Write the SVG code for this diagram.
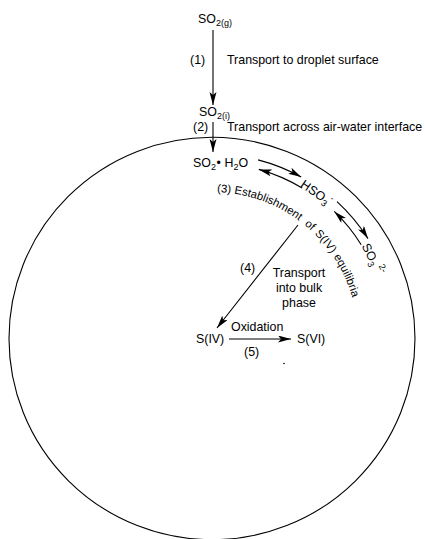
<svg xmlns="http://www.w3.org/2000/svg" width="425" height="539" viewBox="0 0 425 539">
<defs>
<style>
text{font-family:"Liberation Sans",Arial,sans-serif;font-size:12.4px;fill:#000}
.sub{font-size:9px}
.arc{font-size:11.3px}
.ln{fill:none;stroke:#000;stroke-width:1.1}
</style>
<marker id="ah" markerUnits="userSpaceOnUse" markerWidth="14" markerHeight="8" refX="13" refY="3.5" orient="auto">
<path d="M0,0 L13,3.5 L0,7 L3,3.5 z" fill="#000"/>
</marker>
<path id="arcText" d="M217.1,192.1 A146,146 0 0 1 355.8,312.6"/>
</defs>
<rect width="425" height="539" fill="#fff"/>
<g id="droplet">
<ellipse cx="212" cy="338.5" rx="203" ry="201.2" class="ln"/>
</g>
<g id="connectors">
<line x1="213" y1="30" x2="213" y2="105" class="ln" marker-end="url(#ah)"/>
<line x1="213" y1="122" x2="213" y2="152" class="ln" marker-end="url(#ah)"/>
<path d="M258.1,159.9 A184,184 0 0 1 301.2,177.1" class="ln" marker-end="url(#ah)"/>
<path d="M302.1,188 A175,175 0 0 0 258.8,169.4" class="ln" marker-end="url(#ah)"/>
<path d="M337,201.6 A185,185 0 0 1 368,238.6" class="ln" marker-end="url(#ah)"/>
<path d="M361.2,244.7 A176,176 0 0 0 334.3,211.4" class="ln" marker-end="url(#ah)"/>
<line x1="298" y1="225" x2="217" y2="328" class="ln" marker-end="url(#ah)"/>
<line x1="229" y1="339" x2="291" y2="339" class="ln" marker-end="url(#ah)"/>
<circle cx="284" cy="363.5" r="0.8" fill="#000"/>
</g>
<g id="so2g"><text x="198" y="22.5">SO<tspan class="sub" dy="3">2(g)</tspan></text></g>
<g id="step1">
<text x="190" y="63.5">(1)</text>
<text x="227" y="63.5">Transport to droplet surface</text>
</g>
<g id="so2i"><text x="199" y="116">SO<tspan class="sub" dy="3">2(i)</tspan></text></g>
<g id="step2">
<text x="193" y="131">(2)</text>
<text x="227" y="131">Transport across air-water interface</text>
</g>
<g id="so2h2o"><text x="193" y="167.3">SO<tspan class="sub" dy="3">2</tspan><tspan dy="-3" x="216.5">•</tspan><tspan x="224.5">H</tspan><tspan class="sub" dy="3">2</tspan><tspan dy="-3">O</tspan></text></g>
<g id="hso3"><text x="197" y="163.4" transform="rotate(35 212 338)">HSO<tspan class="sub" dy="3">3</tspan><tspan class="sub" dy="-9">-</tspan></text></g>
<g id="so3"><text x="198" y="163" transform="rotate(63 212 338)">SO<tspan class="sub" dy="3">3</tspan><tspan class="sub" dy="-9"> 2-</tspan></text></g>
<g id="step3">
<text class="arc"><textPath href="#arcText" startOffset="0">(3)</textPath></text>
<text class="arc"><textPath href="#arcText" startOffset="17">Establishment</textPath></text>
<text class="arc"><textPath href="#arcText" startOffset="94.5">of</textPath></text>
<text class="arc"><textPath href="#arcText" startOffset="108.5">S(IV)</textPath></text>
<text class="arc"><textPath href="#arcText" startOffset="138">equilibria</textPath></text>
</g>
<g id="step4">
<text x="240" y="272">(4)</text>
<text x="299" y="277" text-anchor="middle">Transport</text>
<text x="299" y="292" text-anchor="middle">into bulk</text>
<text x="299" y="307" text-anchor="middle">phase</text>
</g>
<g id="siv"><text x="196" y="343">S(IV)</text></g>
<g id="step5">
<text x="231" y="331">Oxidation</text>
<text x="244" y="356">(5)</text>
</g>
<g id="svi"><text x="297" y="343">S(VI)</text></g>
</svg>
